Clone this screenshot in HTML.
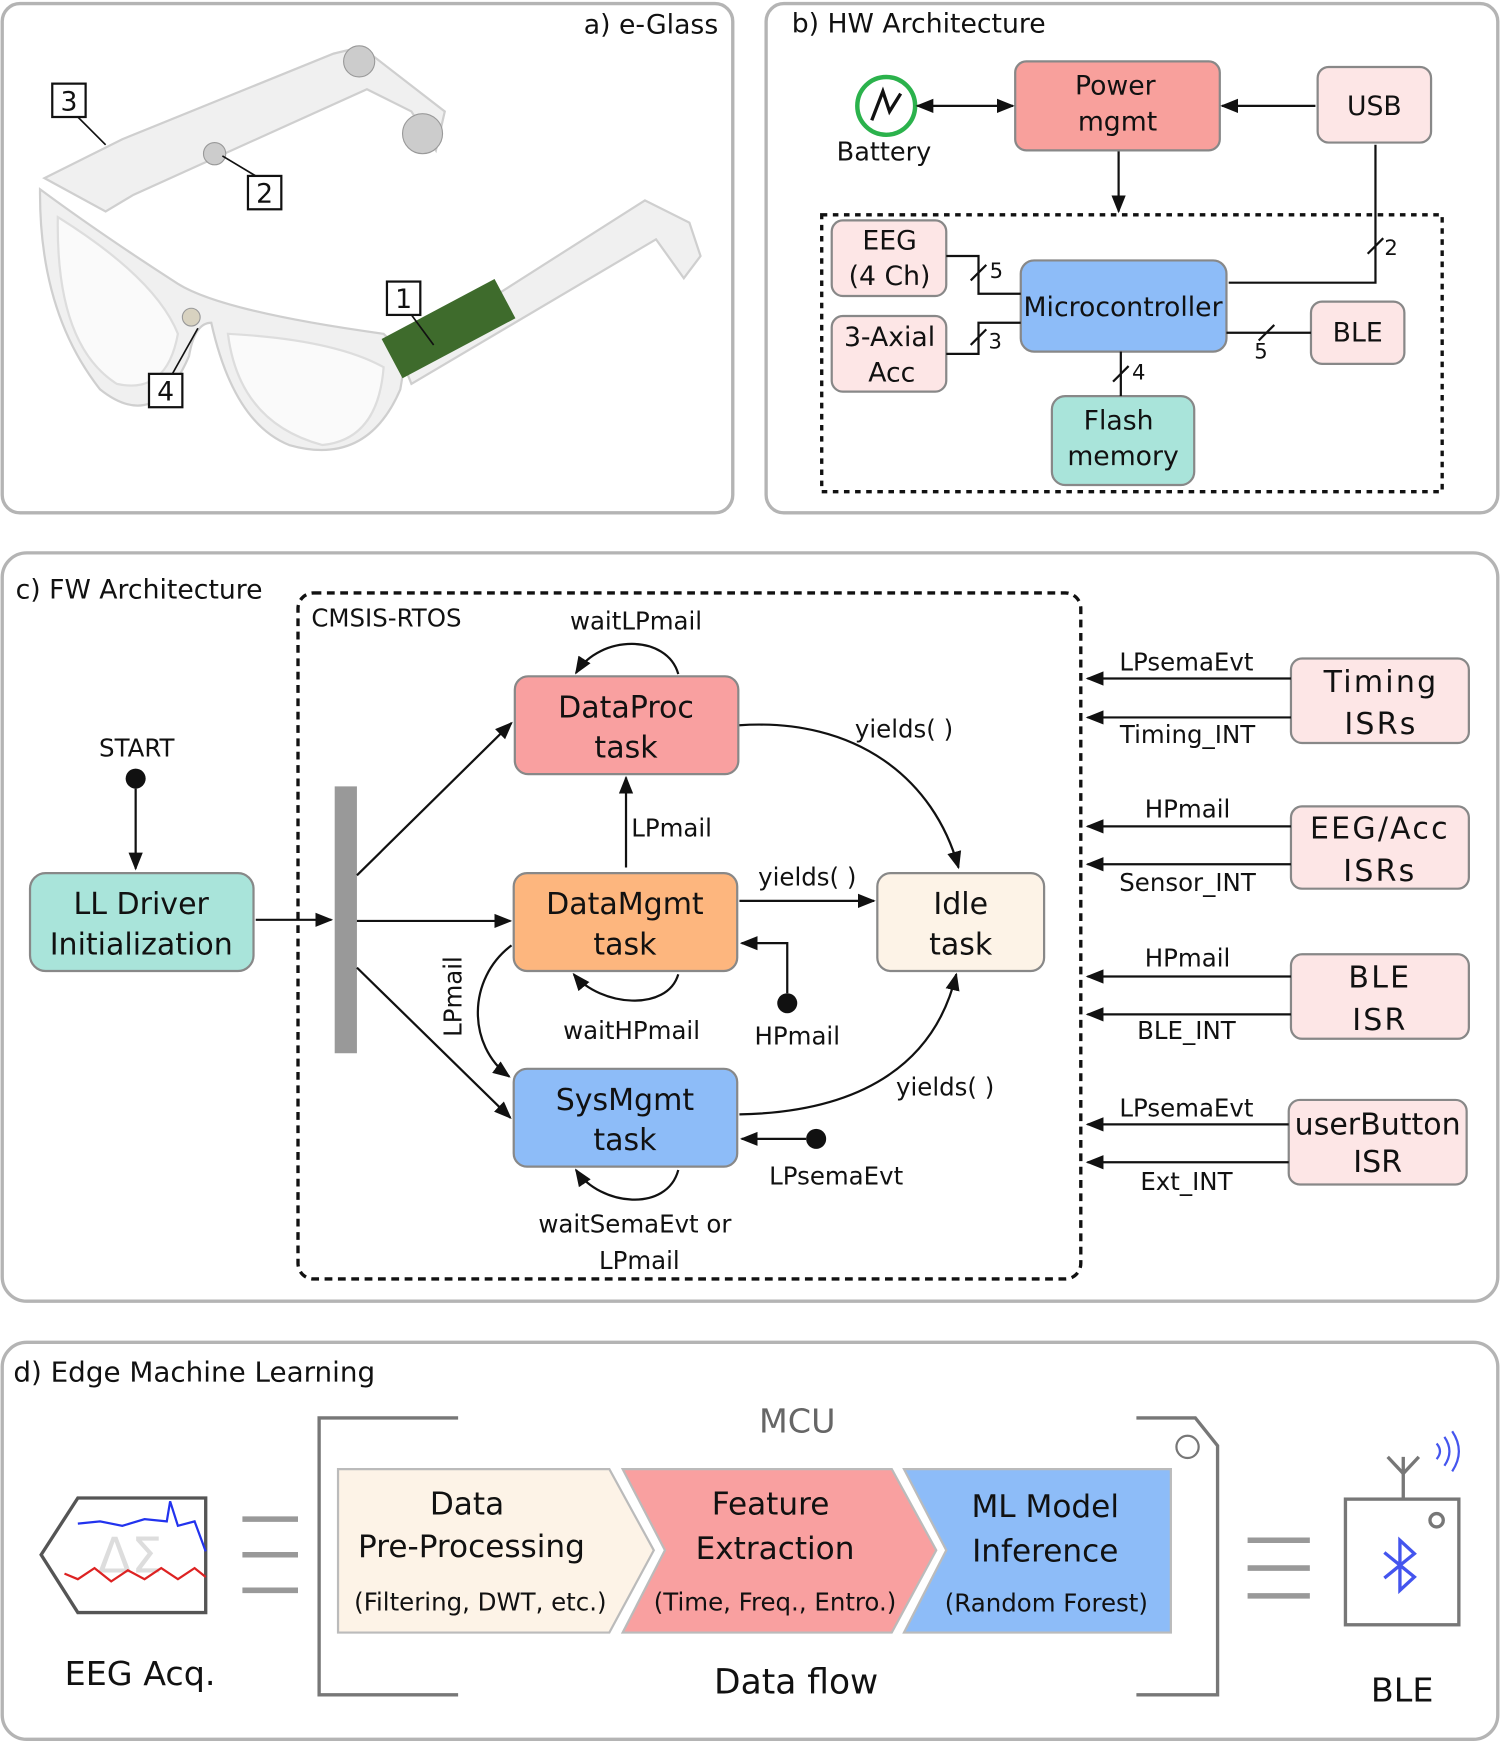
<!DOCTYPE html>
<html><head><meta charset="utf-8"><style>
html,body{margin:0;padding:0;background:#fff;}
svg{display:block;}
text{font-family:"DejaVu Sans","Liberation Sans",sans-serif;fill:#111;}
</style></head><body>
<svg width="1500" height="1744" viewBox="0 0 1349 1568" xmlns="http://www.w3.org/2000/svg">
<defs>
<marker id="ar" viewBox="0 0 10 10" refX="9" refY="5" markerWidth="8" markerHeight="8" orient="auto-start-reverse"><path d="M0,1 L10,5 L0,9 z" fill="#111"/></marker>
</defs>
<g fill="none" stroke="#b4b4b4" stroke-width="3">
<rect x="2" y="3" width="657" height="458" rx="16"/>
<rect x="689" y="3" width="658" height="458" rx="16"/>
<rect x="2" y="497" width="1345" height="673" rx="22"/>
<rect x="2" y="1207" width="1345" height="357" rx="22"/>
</g>
<text x="525" y="30" font-size="24">a) e-Glass</text>
<text x="712" y="29" font-size="24">b) HW Architecture</text>
<text x="14" y="538" font-size="24">c) FW  Architecture</text>
<text x="12" y="1242" font-size="25">d)  Edge Machine Learning</text>

<!-- glasses approx -->
<g stroke="#cfcfcf" stroke-width="2" fill="#f0f0f0">
<path d="M40,160 L110,125 L300,48 L325,42 L400,100 L392,135 L370,100 L330,80 L120,175 L95,190 z"/>
<path d="M360,320 L580,180 L620,200 L630,230 L615,250 L590,215 L370,345 z"/>
<path d="M36,170 Q35,280 90,350 Q140,390 170,320 Q175,290 190,290 Q210,380 260,400 Q330,420 360,350 L365,320 L345,300 Q200,280 160,255 Q90,210 36,170 z"/>
</g>
<g fill="#fafafa" stroke="#ddd" stroke-width="2">
<path d="M52,195 Q50,310 105,345 Q150,355 160,300 Q140,250 52,195 z"/>
<path d="M205,300 Q215,380 290,400 Q340,395 345,330 Q300,305 205,300 z"/>
</g>
<rect x="362" y="300" width="115" height="40" fill="#3e6b2c" transform="rotate(-28 362 340)"/>
<circle cx="323" cy="55" r="14" fill="#ccc" stroke="#999"/>
<circle cx="380" cy="120" r="18" fill="#ccc" stroke="#999"/>
<circle cx="193" cy="138" r="10" fill="#ccc" stroke="#999"/>
<circle cx="172" cy="285" r="8" fill="#d8d2c0" stroke="#999"/>
<g fill="#fff" stroke="#111" stroke-width="2">
<rect x="47" y="75" width="30" height="30"/><rect x="223" y="158" width="30" height="30"/>
<rect x="348" y="253" width="30" height="30"/><rect x="134" y="336" width="30" height="30"/>
</g>
<g font-size="24" text-anchor="middle"><text x="62" y="99">3</text><text x="238" y="182">2</text><text x="363" y="277">1</text><text x="149" y="360">4</text></g>
<g stroke="#111" stroke-width="1.5"><line x1="70" y1="105" x2="95" y2="130"/><line x1="230" y1="158" x2="200" y2="140"/><line x1="370" y1="283" x2="390" y2="310"/><line x1="155" y1="336" x2="178" y2="295"/></g>

<!-- panel b -->
<rect x="739" y="193" width="558" height="249" fill="none" stroke="#111" stroke-width="3" stroke-dasharray="5,5"/>
<circle cx="797" cy="95" r="26" fill="#fff" stroke="#2bb24c" stroke-width="4"/>
<path d="M784,108 L794,82 L800,100 L810,84" fill="none" stroke="#111" stroke-width="3"/>
<text x="795" y="144" font-size="23" text-anchor="middle">Battery</text>
<g stroke="#888" stroke-width="2">
<rect x="913" y="55" width="184" height="80" rx="10" fill="#f8a09c"/>
<rect x="1185" y="60" width="102" height="68" rx="10" fill="#fde6e6"/>
<rect x="748" y="198" width="103" height="68" rx="10" fill="#fde6e6"/>
<rect x="748" y="284" width="103" height="68" rx="10" fill="#fde6e6"/>
<rect x="918" y="234" width="185" height="82" rx="12" fill="#8dbcf8"/>
<rect x="1179" y="271" width="84" height="56" rx="10" fill="#fde6e6"/>
<rect x="946" y="356" width="128" height="80" rx="12" fill="#a9e4da"/>
</g>
<g font-size="24" text-anchor="middle">
<text x="1003" y="85">Power</text><text x="1005" y="117">mgmt</text>
<text x="1236" y="103">USB</text>
<text x="800" y="224">EEG</text><text x="800" y="256">(4 Ch)</text>
<text x="800" y="311">3-Axial</text><text x="802" y="343">Acc</text>
<text x="1010" y="284">Microcontroller</text>
<text x="1221" y="307">BLE</text>
<text x="1006" y="386">Flash</text><text x="1010" y="418">memory</text>
</g>
<g stroke="#111" stroke-width="2" fill="none">
<line x1="825" y1="95" x2="911" y2="95" marker-end="url(#ar)" marker-start="url(#ar)"/>
<line x1="1183" y1="95" x2="1099" y2="95" marker-end="url(#ar)"/>
<line x1="1006" y1="136" x2="1006" y2="190" marker-end="url(#ar)"/>
<path d="M1105,254 L1237,254 L1237,130"/>
<path d="M851,230 L880,230 L880,264 L918,264"/>
<path d="M851,318 L880,318 L880,290 L918,290"/>
<line x1="1103" y1="299" x2="1179" y2="299"/>
<line x1="1008" y1="316" x2="1008" y2="356"/>
<line x1="873" y1="252" x2="887" y2="238"/><line x1="873" y1="310" x2="887" y2="296"/>
<line x1="1230" y1="228" x2="1244" y2="214"/><line x1="1132" y1="306" x2="1146" y2="292"/>
<line x1="1001" y1="343" x2="1015" y2="329"/>
</g>
<g font-size="19"><text x="890" y="250">5</text><text x="889" y="313">3</text><text x="1245" y="229">2</text><text x="1128" y="322">5</text><text x="1018" y="341">4</text></g>

<!-- panel c -->
<rect x="268" y="533" width="704" height="617" rx="14" fill="none" stroke="#111" stroke-width="3" stroke-dasharray="7,5"/>
<text x="280" y="563" font-size="22">CMSIS-RTOS</text>
<g stroke="#888" stroke-width="2">
<rect x="463" y="608" width="201" height="88" rx="12" fill="#f9a0a0"/>
<rect x="462" y="785" width="201" height="88" rx="12" fill="#fdb67e"/>
<rect x="789" y="785" width="150" height="88" rx="12" fill="#fdf3e7"/>
<rect x="462" y="961" width="201" height="88" rx="12" fill="#8dbcf8"/>
<rect x="27" y="785" width="201" height="88" rx="14" fill="#a9e4da"/>
<rect x="1161" y="592" width="160" height="76" rx="10" fill="#fde6e6"/>
<rect x="1161" y="725" width="160" height="74" rx="10" fill="#fde6e6"/>
<rect x="1161" y="858" width="160" height="76" rx="10" fill="#fde6e6"/>
<rect x="1159" y="989" width="160" height="76" rx="10" fill="#fde6e6"/>
</g>
<rect x="301" y="707" width="20" height="240" fill="#999"/>
<g font-size="27" text-anchor="middle">
<text x="563" y="645">DataProc</text><text x="563" y="681">task</text>
<text x="562" y="822">DataMgmt</text><text x="562" y="858">task</text>
<text x="864" y="822">Idle</text><text x="864" y="858">task</text>
<text x="562" y="998">SysMgmt</text><text x="562" y="1034">task</text>
<text x="127" y="822">LL Driver</text><text x="127" y="858">Initialization</text>
<g letter-spacing="2"><text x="1242" y="622">Timing</text><text x="1242" y="660">ISRs</text>
<text x="1241" y="754">EEG/Acc</text><text x="1241" y="792">ISRs</text>
<text x="1241" y="888">BLE</text><text x="1241" y="926">ISR</text></g>
<text x="1239" y="1020">userButton</text><text x="1239" y="1054">ISR</text>
</g>
<g font-size="22" text-anchor="middle">
<text x="123" y="680">START</text>
<text x="572" y="566">waitLPmail</text>
<text x="604" y="752">LPmail</text>
<text x="813" y="663">yields( )</text>
<text x="726" y="796">yields( )</text>
<text x="568" y="934">waitHPmail</text>
<text x="717" y="939">HPmail</text>
<text x="850" y="985">yields( )</text>
<text x="752" y="1065">LPsemaEvt</text>
<text x="571" y="1108">waitSemaEvt or</text>
<text x="575" y="1141">LPmail</text>
<text x="1067" y="603">LPsemaEvt</text><text x="1068" y="668">Timing_INT</text>
<text x="1068" y="735">HPmail</text><text x="1068" y="801">Sensor_INT</text>
<text x="1068" y="869">HPmail</text><text x="1067" y="934">BLE_INT</text>
<text x="1067" y="1004">LPsemaEvt</text><text x="1067" y="1070">Ext_INT</text>
<text transform="translate(415,896) rotate(-90)">LPmail</text>
</g>
<circle cx="122" cy="700" r="9" fill="#111"/>
<circle cx="708" cy="902" r="9" fill="#111"/>
<circle cx="734" cy="1024" r="9" fill="#111"/>
<g stroke="#111" stroke-width="2" fill="none" marker-end="url(#ar)">
<line x1="122" y1="709" x2="122" y2="781"/>
<line x1="230" y1="827" x2="298" y2="827"/>
<line x1="321" y1="787" x2="460" y2="650"/>
<line x1="321" y1="828" x2="459" y2="828"/>
<line x1="321" y1="870" x2="459" y2="1005"/>
<line x1="563" y1="780" x2="563" y2="699"/>
<line x1="665" y1="810" x2="786" y2="810"/>
<path d="M708,893 L708,848 L667,848"/>
<line x1="725" y1="1024" x2="667" y2="1024"/>
<path d="M665,652 C770,645 840,700 862,780"/>
<path d="M665,1002 C770,1000 840,960 860,876"/>
<path d="M610,606 C600,570 540,570 518,605"/>
<path d="M610,876 C600,910 540,905 516,876"/>
<path d="M610,1052 C600,1090 540,1085 518,1052"/>
<path d="M460,850 C420,880 420,940 458,968"/>
<line x1="1161" y1="610" x2="978" y2="610"/><line x1="1161" y1="645" x2="978" y2="645"/>
<line x1="1161" y1="743" x2="978" y2="743"/><line x1="1161" y1="777" x2="978" y2="777"/>
<line x1="1161" y1="878" x2="978" y2="878"/><line x1="1161" y1="912" x2="978" y2="912"/>
<line x1="1159" y1="1011" x2="978" y2="1011"/><line x1="1159" y1="1045" x2="978" y2="1045"/>
</g>

<!-- panel d -->
<g fill="none" stroke="#777" stroke-width="3">
<path d="M412,1275 L287,1275 L287,1524 L412,1524"/>
<path d="M1022,1275 L1075,1275 L1095,1300 L1095,1524 L1022,1524"/>
<circle cx="1068" cy="1301" r="10" stroke-width="2"/>
</g>
<g stroke="#999" stroke-width="5">
<line x1="218" y1="1366" x2="268" y2="1366"/><line x1="218" y1="1398" x2="268" y2="1398"/><line x1="218" y1="1430" x2="268" y2="1430"/>
<line x1="1122" y1="1385" x2="1178" y2="1385"/><line x1="1122" y1="1410" x2="1178" y2="1410"/><line x1="1122" y1="1435" x2="1178" y2="1435"/>
</g>
<text x="717" y="1288" font-size="30" text-anchor="middle" style="fill:#666">MCU</text>
<g stroke="#bbb" stroke-width="2">
<path d="M304,1321 L548,1321 L588,1394 L548,1468 L304,1468 z" fill="#fdf3e7"/>
<path d="M560,1321 L802,1321 L842,1394 L802,1468 L560,1468 L598,1394 z" fill="#f9a0a0"/>
<path d="M813,1321 L1053,1321 L1053,1468 L813,1468 L851,1394 z" fill="#8dbcf8"/>
</g>
<g font-size="28" text-anchor="middle">
<text x="420" y="1362">Data</text><text x="424" y="1400">Pre-Processing</text>
<text x="693" y="1362">Feature</text><text x="697" y="1402">Extraction</text>
<text x="940" y="1364">ML Model</text><text x="940" y="1404">Inference</text>
<text x="716" y="1523" font-size="31">Data flow</text>
<text x="126" y="1515" font-size="30">EEG Acq.</text>
<text x="1261" y="1530" font-size="30">BLE</text>
</g>
<g font-size="22" text-anchor="middle">
<text x="432" y="1448">(Filtering, DWT, etc.)</text>
<text x="697" y="1448">(Time, Freq., Entro.)</text>
<text x="941" y="1449">(Random Forest)</text>
</g>
<path d="M37,1398 L70,1347 L185,1347 L185,1450 L70,1450 z" fill="#fff" stroke="#555" stroke-width="3"/>
<text x="117" y="1414" font-size="44" text-anchor="middle" style="fill:#ddd">ΔΣ</text>
<polyline points="70,1370 90,1368 110,1372 130,1366 150,1368 153,1350 160,1372 175,1368 185,1395" fill="none" stroke="#2233ee" stroke-width="2"/>
<polyline points="58,1415 70,1420 85,1410 100,1422 115,1412 130,1420 145,1410 160,1420 175,1410 185,1418" fill="none" stroke="#dd2222" stroke-width="2"/>
<rect x="1210" y="1348" width="102" height="113" fill="#fff" stroke="#777" stroke-width="3"/>
<line x1="1262" y1="1348" x2="1262" y2="1310" stroke="#777" stroke-width="3"/>
<path d="M1248,1310 L1262,1325 L1276,1310" fill="none" stroke="#777" stroke-width="3"/>
<circle cx="1292" cy="1367" r="6" fill="none" stroke="#777" stroke-width="3"/>
<path d="M1245,1396 L1272,1418 L1259,1430 L1259,1385 L1272,1397 L1245,1419" fill="none" stroke="#4455ee" stroke-width="3"/>
<path d="M1292,1298 Q1298,1305 1292,1312 M1299,1292 Q1308,1305 1299,1318 M1306,1287 Q1318,1305 1306,1323" fill="none" stroke="#4455ee" stroke-width="2"/>
</svg>
</body></html>
